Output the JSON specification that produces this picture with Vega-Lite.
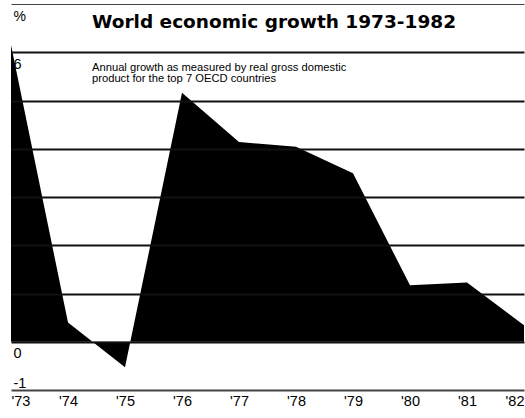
{
  "$schema": "https://vega.github.io/schema/vega-lite/v6.json",
  "width": 513,
  "height": 386,
  "autosize": "none",
  "padding": {"left": 11, "top": 4, "right": 1, "bottom": 28},
  "background": "#ffffff",
  "title": {
    "text": "World economic growth 1973-1982",
    "subtitle": ["Annual growth as measured by real gross domestic", "product for the top 7 OECD countries"],
    "anchor": "start",
    "frame": "group",
    "dx": 81,
    "offset": -80,
    "font": "DejaVu Sans",
    "fontSize": 18.5,
    "fontWeight": "bold",
    "color": "#000000",
    "subtitleFont": "Liberation Sans",
    "subtitleFontSize": 11.2,
    "subtitleColor": "#000000",
    "subtitlePadding": 30,
    "subtitleLineHeight": 11
  },
  "data": {
    "values": [
      {"year": 1973, "growth": 6.15},
      {"year": 1974, "growth": 0.4},
      {"year": 1975, "growth": -0.53},
      {"year": 1976, "growth": 5.16},
      {"year": 1977, "growth": 4.14},
      {"year": 1978, "growth": 4.04},
      {"year": 1979, "growth": 3.49},
      {"year": 1980, "growth": 1.17},
      {"year": 1981, "growth": 1.23},
      {"year": 1982, "growth": 0.34}
    ]
  },
  "mark": {"type": "area", "color": "#000000", "interpolate": "linear"},
  "encoding": {
    "x": {
      "field": "year",
      "type": "quantitative",
      "scale": {"domain": [1973, 1982], "nice": false, "zero": false},
      "axis": {
        "title": null,
        "values": [1973, 1974, 1975, 1976, 1977, 1978, 1979, 1980, 1981, 1982],
        "labelExpr": "\"'\" + slice(toString(datum.value), 2)",
        "domain": false,
        "ticks": false,
        "grid": false,
        "labelFlush": true,
        "labelPadding": 4,
        "labelFont": "Liberation Sans",
        "labelFontSize": 14.5,
        "labelColor": "#000000",
        "labelBaseline": "top"
      }
    },
    "y": {
      "field": "growth",
      "type": "quantitative",
      "scale": {"domain": [-1, 7], "nice": false},
      "axis": {
        "values": [-1, 0, 1, 2, 3, 4, 5, 6, 7],
        "title": "%",
        "titleAngle": 0,
        "titleAlign": "left",
        "titleBaseline": "top",
        "titleX": 2,
        "titleY": 5,
        "titleFont": "Liberation Sans",
        "titleFontSize": 14,
        "titleFontWeight": "normal",
        "titleColor": "#000000",
        "labelAlign": "left",
        "labelBaseline": "top",
        "labelPadding": -2,
        "labelOffset": {"condition": {"test": "datum.value < 0", "value": -14}, "value": 5},
        "labelExpr": "datum.value == 7 ? '' : toString(datum.value)",
        "labelFont": "Liberation Sans",
        "labelFontSize": 14.5,
        "labelColor": "#000000",
        "labelBound": false,
        "labelOverlap": false,
        "labelFlush": false,
        "ticks": false,
        "domain": false,
        "grid": true,
        "gridColor": {"condition": {"test": "datum.value == 7 || datum.value < 0", "value": "#444444"}, "value": "#111111"},
        "gridWidth": {"condition": {"test": "datum.value == 7", "value": 1}, "value": 1.8},
        "zindex": 1
      }
    }
  },
  "config": {"view": {"stroke": null}}
}
